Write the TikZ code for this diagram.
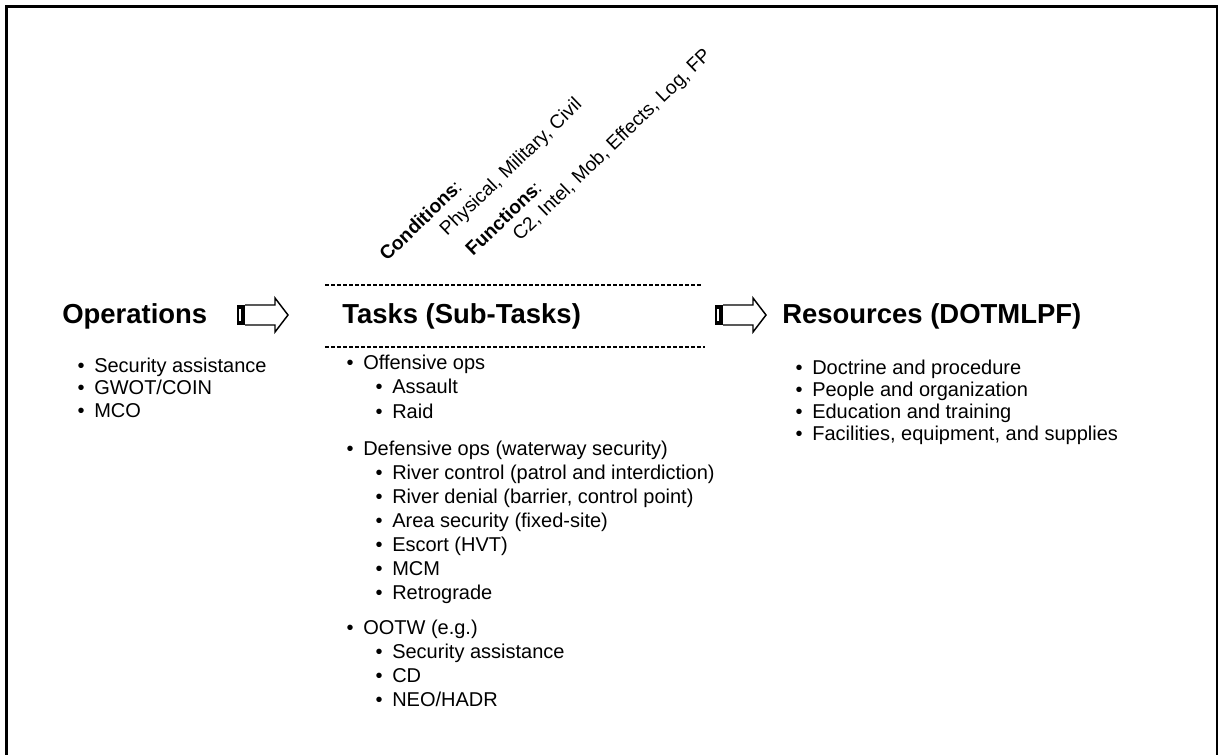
\documentclass[tikz,border=0pt]{standalone}
\usepackage{fontspec}
\setmainfont{Liberation Sans}
\begin{document}
\begin{tikzpicture}[x=0.75pt,y=0.75pt,
  heading/.style={anchor=base west, inner sep=0pt, font=\fontsize{20.6}{24}\selectfont\bfseries},
  item/.style={anchor=base west, inner sep=0pt, font=\fontsize{15}{18}\selectfont},
  dot/.style={anchor=base, inner sep=0pt, font=\fontsize{15}{18}\selectfont},
  slant/.style={anchor=base west, inner sep=0pt, rotate=44, font=\fontsize{14.4}{17}\selectfont},
  frameline/.style={line width=1.6pt},
  dashline/.style={line width=0.8pt, dash pattern=on 3pt off 1.5pt},
  blockarrow/.pic={
    \fill[black] (0,-10) rectangle (8,10);
    \draw[white, line width=0.9pt] (3,-6) -- (3,6);
    \draw[line width=1.1pt, line join=miter]
      (8,10) -- (38,10) -- (38,17) -- (51,0) -- (38,-17) -- (38,-10) -- (8,-10);
  }]
\useasboundingbox (0,0) rectangle (1219,-754);
\clip (0,0) rectangle (1219,-754);

% outer frame (runs past the lower edge)
\draw[frameline] (6.5,-6.5) rectangle (1217,-800);

% column headings
\node[heading] (ops) at (62,-323) {Operations};
\node[heading] (tasks) at (342,-323) {Tasks (Sub-Tasks)};
\node[heading] (res) at (782,-323) {Resources (DOTMLPF)};

% block arrows between the headings
\pic at (237,-315) {blockarrow};
\pic at (715,-315) {blockarrow};

% dashed rules framing the task heading
\coordinate (ta) at (325,-285);
\coordinate (tb) at (702,-285);
\coordinate (tc) at (325,-347);
\coordinate (td) at (705,-347);
\draw[dashline] (ta) -- (tb);
\draw[dashline] (tc) -- (td);

% slanted condition / function labels
\node[slant] (cond) at (387,-262) {\textbf{Conditions}:};
\node[slant] (condv) at (447,-237) {Physical, Military, Civil};
\node[slant] (func) at (473,-257) {\textbf{Functions}:};
\node[slant] (funcv) at (520,-242) {C2, Intel, Mob, Effects, Log, FP};

% operations list
\foreach \y/\t [count=\i] in {372/{Security assistance}, 394.5/{GWOT/COIN}, 417/{MCO}}{
  \node[dot] (opb\i) at (81,-\y) {•};
  \node[item] (op\i) at (94,-\y) {\t};
}

% task list
\foreach \x/\y/\t [count=\i] in {
  363/369/{Offensive ops},
  392/393/{Assault},
  392/418/{Raid},
  363/455/{Defensive ops (waterway security)},
  392/479/{River control (patrol and interdiction)},
  392/503/{River denial (barrier, control point)},
  392/527/{Area security (fixed-site)},
  392/551/{Escort (HVT)},
  392/575/{MCM},
  392/599/{Retrograde},
  363/634/{OOTW (e.g.)},
  392/658/{Security assistance},
  392/682/{CD},
  392/706/{NEO/HADR}}{
  \node[dot] (tkb\i) at (\x-13,-\y) {•};
  \node[item] (tk\i) at (\x,-\y) {\t};
}

% resources list
\foreach \y/\t [count=\i] in {374/{Doctrine and procedure}, 396/{People and organization},
  418/{Education and training}, 440/{Facilities, equipment, and supplies}}{
  \node[dot] (rsb\i) at (799,-\y) {•};
  \node[item] (rs\i) at (812,-\y) {\t};
}
\end{tikzpicture}
\end{document}
